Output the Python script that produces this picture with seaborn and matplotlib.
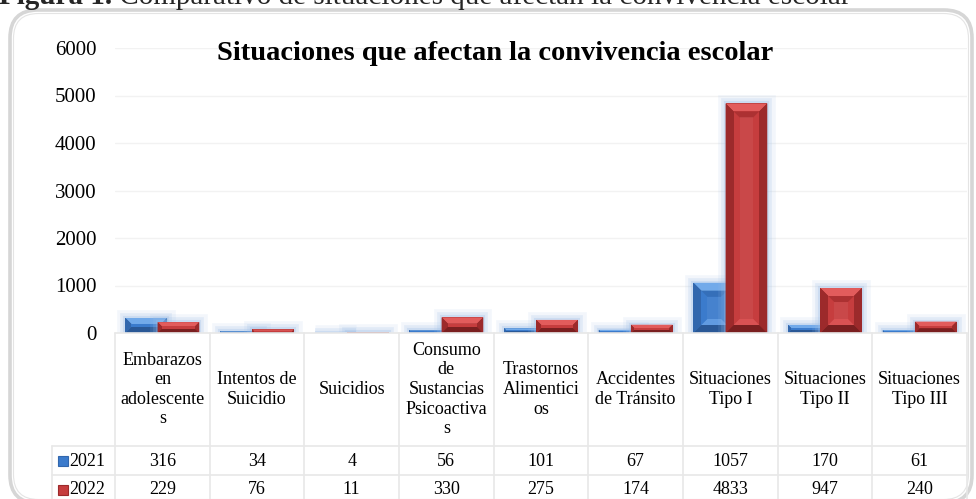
import numpy as np
import pandas as pd
import matplotlib
matplotlib.use("Agg")
import matplotlib.pyplot as plt
import matplotlib.transforms as mtransforms
from matplotlib.patches import Rectangle, Polygon, FancyBboxPatch
import matplotlib.patheffects as pe
import seaborn as sns

# ---------------- data ----------------
categories = ["Embarazos en adolescentes", "Intentos de Suicidio", "Suicidios",
              "Consumo de Sustancias Psicoactivas", "Trastornos Alimenticios",
              "Accidentes de Tránsito", "Situaciones Tipo I", "Situaciones Tipo II",
              "Situaciones Tipo III"]
header_labels = ["Embarazos\nen\nadolescente\ns", "Intentos de\nSuicidio", "Suicidios",
                 "Consumo\nde\nSustancias\nPsicoactiva\ns", "Trastornos\nAlimentici\nos",
                 "Accidentes\nde Tránsito", "Situaciones\nTipo I", "Situaciones\nTipo II",
                 "Situaciones\nTipo III"]
series_names = ["2021", "2022"]
values_2021 = [316, 34, 4, 56, 101, 67, 1057, 170, 61]
values_2022 = [229, 76, 11, 330, 275, 174, 4833, 947, 240]
y_ticks = [0, 1000, 2000, 3000, 4000, 5000, 6000]
title = "Situaciones que afectan la convivencia escolar"
caption_bold = "Figura 1."
caption_rest = " Comparativo de situaciones que afectan la convivencia escolar"

df = pd.DataFrame({
    "categoria": categories * 2,
    "valor": values_2021 + values_2022,
    "anio": [series_names[0]] * len(categories) + [series_names[1]] * len(categories),
})

# ---------------- style ----------------
sns.set_theme(style="white")
plt.rcParams["font.family"] = ["Liberation Serif", "DejaVu Serif"]

W, H = 976, 499
fig = plt.figure(figsize=(W / 100, H / 100), dpi=100)
ax_left, ax_right, ax_top, ax_bottom = 115, 967, 48, 333
ax = fig.add_axes([ax_left / W, 1 - ax_bottom / H, (ax_right - ax_left) / W, (ax_bottom - ax_top) / H])

blue_main, red_main = "#3b7bcc", "#c63d3e"
sns.barplot(data=df, x="categoria", y="valor", hue="anio", order=categories,
            hue_order=series_names, palette=[blue_main, red_main], width=0.68,
            dodge=True, ax=ax, legend=False, saturation=1)

ax.set_ylim(0, 6000)
ax.set_yticks(y_ticks)
ax.set_yticklabels([str(t) for t in y_ticks], fontsize=15, color="black")
ax.tick_params(axis="y", length=0, pad=13.5)
ax.set_xticks([])
ax.set_xlabel("")
ax.set_ylabel("")
ax.set_xlim(-0.5, len(categories) - 0.5)
for s in ax.spines.values():
    s.set_visible(False)
ax.yaxis.grid(True, color="#f2f2f2", lw=1)
ax.set_axisbelow(True)

# widen the bars so they overlap a little, as in the reference
bar_w = 0.44
n = len(categories)
bars = list(ax.patches)
for i, p in enumerate(bars):
    c = p.get_x() + p.get_width() / 2
    p.set_width(bar_w)
    p.set_x(c - bar_w / 2)
    p.set_zorder(3 if i < n else 5)

# bevel effect
fig.canvas.draw()
px_x = ax.transData.transform((1, 0))[0] - ax.transData.transform((0, 0))[0]
px_y = (ax.transData.transform((0, 1000))[1] - ax.transData.transform((0, 0))[1]) / 1000.0

shades = {
    0: dict(top="#72aaea", side="#3267ad", bottom="#2a5896", inner=blue_main, glow="#9dbde6"),
    1: dict(top="#e25c5c", side="#9c2a2b", bottom="#7a1f20", inner=red_main, glow="#9dbde6"),
}
for i, p in enumerate(bars):
    k = 0 if i < n else 1
    sh = shades[k]
    x0, y0 = p.get_x(), p.get_y()
    w, h = p.get_width(), p.get_height()
    x1, y1 = x0 + w, y0 + h
    hp = h * px_y
    inset_px = min(8.0, hp / 2.5, w * px_x / 4)
    dx = inset_px / px_x
    dy = inset_px / px_y
    z = p.get_zorder()
    p.set_facecolor(sh["side"])
    p.set_edgecolor("none")
    p.set_path_effects([pe.Stroke(linewidth=12, foreground=sh["glow"], alpha=0.12),
                        pe.Stroke(linewidth=7, foreground=sh["glow"], alpha=0.2),
                        pe.Stroke(linewidth=3, foreground=sh["glow"], alpha=0.3),
                        pe.Normal()])
    polys = [
        ([(x0, y1), (x1, y1), (x1 - dx, y1 - dy), (x0 + dx, y1 - dy)], sh["top"]),
        ([(x0, y0), (x1, y0), (x1 - dx, y0 + dy), (x0 + dx, y0 + dy)], sh["bottom"]),
        ([(x0, y0), (x0 + dx, y0 + dy), (x0 + dx, y1 - dy), (x0, y1)], sh["side"]),
        ([(x1, y0), (x1 - dx, y0 + dy), (x1 - dx, y1 - dy), (x1, y1)], sh["side"]),
    ]
    for pts, col in polys:
        ax.add_patch(Polygon(pts, closed=True, facecolor=col, edgecolor="none", zorder=z + 0.1))
    if hp > 2 * inset_px:
        ax.add_patch(Rectangle((x0 + dx, y0 + dy), w - 2 * dx, h - 2 * dy,
                               facecolor=sh["inner"], edgecolor="none", zorder=z + 0.2))
        if hp > 40:
            # second, inner bevel level
            d2x, d2y = 6 / px_x, 6 / px_y
            ax.add_patch(Polygon([(x0 + dx, y1 - dy), (x1 - dx, y1 - dy), (x1 - dx - d2x, y1 - dy - d2y),
                                  (x0 + dx + d2x, y1 - dy - d2y)], closed=True,
                                 facecolor=sh["side"], alpha=0.6, edgecolor="none", zorder=z + 0.3))
            ax.add_patch(Polygon([(x0 + dx, y0 + dy), (x1 - dx, y0 + dy), (x1 - dx - d2x, y0 + dy + d2y),
                                  (x0 + dx + d2x, y0 + dy + d2y)], closed=True,
                                 facecolor=sh["top"], alpha=0.7, edgecolor="none", zorder=z + 0.3))
            ax.add_patch(Rectangle((x0 + dx + d2x, y0 + dy + d2y), w - 2 * (dx + d2x), h - 2 * (dy + d2y),
                                   facecolor="white", alpha=0.06, edgecolor="none", zorder=z + 0.3))

# ---------------- data table ----------------
bt = mtransforms.blended_transform_factory(ax.transData, fig.transFigure)
fy = lambda py: 1 - py / H
fx = lambda px: px / W
line_col = "#e8e8e8"
row_header_top, row1_top, row2_top, table_bottom = 333, 446, 475, 505
legend_left = 52

fig.add_artist(plt.Line2D([fx(ax_left), fx(ax_right)], [fy(row_header_top)] * 2, color=line_col, lw=1.2))
for yy in (row1_top, row2_top):
    fig.add_artist(plt.Line2D([fx(legend_left), fx(ax_right)], [fy(yy)] * 2, color=line_col, lw=1.2))
for j in range(n + 1):
    fig.add_artist(plt.Line2D([j - 0.5, j - 0.5], [fy(row_header_top), fy(table_bottom)],
                              transform=bt, color=line_col, lw=1.2))
fig.add_artist(plt.Line2D([fx(legend_left)] * 2, [fy(row1_top), fy(table_bottom)], color=line_col, lw=1.2))

for j, lab in enumerate(header_labels):
    fig.text(j, fy((row_header_top + row1_top) / 2), lab, transform=bt, ha="center", va="center",
             fontsize=13, linespacing=1.2, color="black")
for r, (vals, name, col, top) in enumerate([(values_2021, series_names[0], blue_main, row1_top),
                                            (values_2022, series_names[1], red_main, row2_top)]):
    yc = fy(top + 15)
    for j, v in enumerate(vals):
        fig.text(j, yc, str(v), transform=bt, ha="center", va="center", fontsize=13, color="black")
    fig.add_artist(Rectangle((fx(58), yc - 5 / H), 10 / W, 10 / H, transform=fig.transFigure,
                             facecolor=col, edgecolor=shades[r]["side"], lw=0.8))
    fig.text(fx(69), yc, name, ha="left", va="center", fontsize=13, color="black")

# ---------------- title and frame ----------------
fig.text(fx(495), fy(60), title, ha="center", va="baseline", fontsize=20.5, fontweight="bold", color="black")

frame = FancyBboxPatch((0.10, -0.04), 9.62, 4.93, boxstyle="round,pad=0,rounding_size=0.28",
                       transform=fig.dpi_scale_trans, facecolor="none", edgecolor="#d6d6d6", lw=2.6)
fig.add_artist(frame)
frame2 = FancyBboxPatch((0.135, -0.005), 9.55, 4.86, boxstyle="round,pad=0,rounding_size=0.25",
                        transform=fig.dpi_scale_trans, facecolor="none", edgecolor="#e4e4e4", lw=0.8)
fig.add_artist(frame2)

# caption (partly above the top edge, as in the reference)
t1 = fig.text(fx(-1), fy(4), caption_bold, ha="left", va="baseline", fontsize=21, fontweight="bold")
fig.canvas.draw()
bb = t1.get_window_extent()
fig.text(bb.x1 / W, fy(4), caption_rest, ha="left", va="baseline", fontsize=21)

fig.savefig("out.png", dpi=100)
